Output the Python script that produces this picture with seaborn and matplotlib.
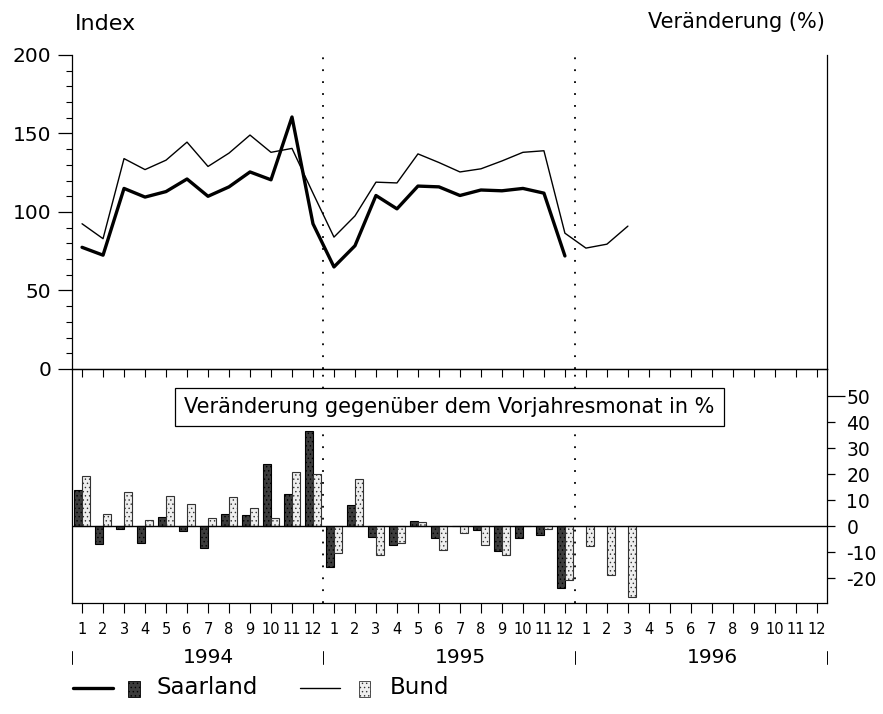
import numpy as np
import pandas as pd
import matplotlib
matplotlib.use("Agg")
import matplotlib.pyplot as plt
import matplotlib.transforms as mtransforms
from matplotlib.lines import Line2D
from matplotlib.patches import Rectangle
import seaborn as sns

# ---------------- data ----------------
years = ["1994", "1995", "1996"]
month_labels = [str(m) for m in range(1, 13)] * 3
series_names = ["Saarland", "Bund"]

# Index values (monthly)
saarland_index = [77.5, 72.5, 115, 109.5, 113, 121, 110, 116, 125.5, 120.5, 160.5, 92.5,
                  65, 78.5, 110.5, 102, 116.5, 116, 110.5, 114, 113.5, 115, 112, 72]
bund_index = [92.5, 83, 134, 127, 133, 144.5, 129, 137.5, 149, 138, 140.5, 112,
              84, 97.5, 119, 118.5, 137, 131.5, 125.5, 127.5, 132.5, 138, 139, 86.5,
              77, 79.5, 91]

# Change vs. same month of previous year (%)
saarland_change = [13.7, -7, -1.3, -6.5, 3.5, -2, -8.3, 4.5, 4.1, 23.7, 12.5, 36.4,
                   -15.8, 8.2, -4.1, -7.4, 2, -4.5, 0, -1.7, -9.6, -4.5, -3.6, -23.7]
bund_change = [19.1, 4.8, 13.1, 2.4, 11.7, 8.3, 3.2, 11, 6.9, 3.2, 20.8, 20.1,
               -10.5, 18.2, -11, -6.7, 1.5, -9.2, -2.5, -7.3, -11, 0, -1, -20.9,
               -7.7, -18.8, -27.2]

# ---------------- style ----------------
sns.set_style("ticks")
plt.rcParams["font.family"] = ["DejaVu Sans"]
plt.rcParams["text.color"] = "black"
plt.rcParams["axes.edgecolor"] = "black"
plt.rcParams["xtick.color"] = "black"
plt.rcParams["ytick.color"] = "black"
plt.rcParams["hatch.linewidth"] = 0.5
plt.rcParams["axes.linewidth"] = 0.9

fig = plt.figure(figsize=(8.83, 7.14), dpi=100)
ax1 = fig.add_axes([0.0815, 0.4832, 0.855, 0.4398])
ax2 = fig.add_axes([0.0815, 0.1555, 0.855, 0.3277])
for ax in (ax1, ax2):
    ax.set_facecolor("none")

n_months = len(month_labels)
pos = np.arange(n_months)
xlim = (-0.48, n_months - 1 + 0.48)
year_breaks = [11.5, 23.5]

# ---------------- upper panel: index lines ----------------
sns.lineplot(x=pos[:len(saarland_index)], y=saarland_index, ax=ax1,
             color="black", linewidth=2.4, errorbar=None)
sns.lineplot(x=pos[:len(bund_index)], y=bund_index, ax=ax1,
             color="black", linewidth=1.0, errorbar=None)
ax1.set_xlim(*xlim)
ax1.set_ylim(0, 200)
ax1.set_yticks([0, 50, 100, 150, 200])
ax1.set_yticks(np.arange(0, 201, 10), minor=True)
ax1.set_xticks(pos)
ax1.set_xlabel("")
ax1.set_ylabel("")
ax1.spines["top"].set_visible(False)
ax1.tick_params(axis="y", which="major", direction="out", length=10, width=0.9,
                labelsize=14.5, pad=5, right=True)
ax1.tick_params(axis="y", which="minor", direction="out", length=4, width=0.8)
ax1.tick_params(axis="x", direction="out", length=6, width=0.8, labelbottom=False)
for t in ax1.yaxis.get_major_ticks():
    t.tick2line.set_visible(t.get_loc() == 200)
for xb in year_breaks:
    ax1.axvline(xb, color="black", linewidth=1.3, linestyle=(0, (1, 5.6)))

ax1.text(75 / 883, 1 - 24 / 714, "Index", transform=fig.transFigure,
         ha="left", va="center", fontsize=16)
ax1.text(825 / 883, 1 - 22 / 714, "Veränderung (%)", transform=fig.transFigure,
         ha="right", va="center", fontsize=15)

# ---------------- lower panel: change bars ----------------
df_chg = pd.DataFrame({
    "pos": list(pos[:len(saarland_change)]) + list(pos[:len(bund_change)]),
    "change": saarland_change + bund_change,
    "Gebiet": [series_names[0]] * len(saarland_change) + [series_names[1]] * len(bund_change),
})
sns.barplot(data=df_chg, x="pos", y="change", hue="Gebiet", hue_order=series_names,
            native_scale=True, dodge=True, width=0.8,
            palette={"Saarland": "#3c3c3c", "Bund": "#eeeeee"},
            edgecolor="black", linewidth=0.8, errorbar=None, legend=False, ax=ax2)
hatches = {"Saarland": "....", "Bund": "...."}
for cont, name in zip(ax2.containers, series_names):
    for bar in cont:
        bar.set_hatch(hatches[name])
        bar.set_edgecolor("black" if name == "Saarland" else "#333333")

ax2.axhline(0, color="black", linewidth=1.0)
for xb in year_breaks:
    ax2.axvline(xb, color="black", linewidth=1.3, linestyle=(0, (1, 5.6)))

ax2.set_xlim(*xlim)
ax2.set_ylim(-29.6, 60.4)
ax2.set_xlabel("")
ax2.set_ylabel("")
ax2.yaxis.tick_right()
yt = list(range(-20, 51, 10))
ax2.set_yticks(yt)
ax2.set_yticklabels([str(v) for v in yt])
ax2.tick_params(axis="y", right=True, left=False, direction="out", length=6,
                width=0.9, pad=8, labelsize=13.5)
for t in ax2.yaxis.get_major_ticks():
    if t.get_loc() == 50:
        t.tick2line.set_markersize(13)
ax2.set_xticks(pos)
ax2.set_xticklabels(month_labels)
ax2.tick_params(axis="x", direction="out", length=7, width=0.8, pad=7, labelsize=10.5)
for s in ["top", "bottom", "left", "right"]:
    ax2.spines[s].set_visible(True)

ax2.text(0.5, 0.838, "Veränderung gegenüber dem Vorjahresmonat in %",
         transform=ax2.transAxes, ha="center", va="center", fontsize=15,
         bbox=dict(boxstyle="square,pad=0.45", fc="white", ec="black", lw=0.9))

# year labels and separators
trans = mtransforms.blended_transform_factory(ax2.transData, ax2.transAxes)
for i, yr in enumerate(years):
    ax2.text(12 * i + 6, -0.231, yr, transform=trans, ha="center", va="center",
             fontsize=14.5)
for xs in [xlim[0]] + year_breaks + [xlim[1]]:
    ax2.add_line(Line2D([xs, xs], [-0.205, -0.26], transform=trans, color="black",
                        linewidth=0.7, clip_on=False))

# ---------------- legend (manual) ----------------
ly = 1 - 688 / 714
fig.add_artist(Line2D([73 / 883, 113 / 883], [ly, ly], color="black", linewidth=2.4))
fig.add_artist(Rectangle((128 / 883, 1 - 697 / 714), 12 / 883, 16 / 714,
                         transform=fig.transFigure, facecolor="#3c3c3c",
                         edgecolor="black", hatch="....", linewidth=0.6))
fig.text(157 / 883, ly, "Saarland", ha="left", va="center", fontsize=16.5)
fig.add_artist(Line2D([300 / 883, 340 / 883], [ly, ly], color="black", linewidth=1.0))
fig.add_artist(Rectangle((359 / 883, 1 - 697 / 714), 11 / 883, 16 / 714,
                         transform=fig.transFigure, facecolor="#eeeeee",
                         edgecolor="#333333", hatch="....", linewidth=0.6))
fig.text(390 / 883, ly, "Bund", ha="left", va="center", fontsize=16.5)

fig.savefig("out.png", dpi=100)
